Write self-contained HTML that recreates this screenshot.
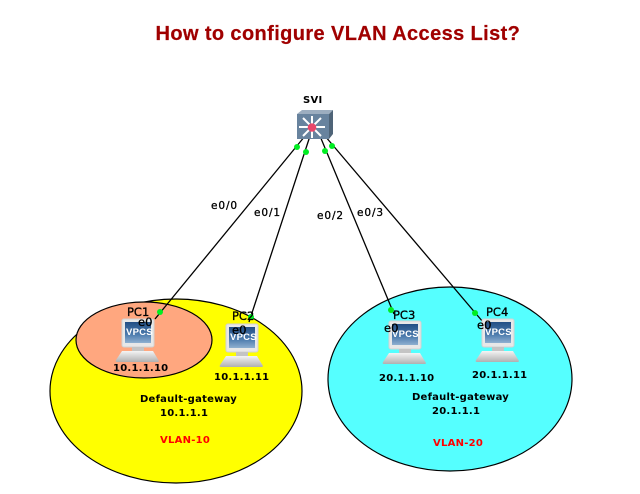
<!DOCTYPE html>
<html><head><meta charset="utf-8"><style>
html,body{margin:0;padding:0;background:#fff}
svg{display:block}
text{font-family:"Liberation Sans",sans-serif;font-size:11px;fill:#000}
.d{font-family:"DejaVu Sans",sans-serif;font-weight:bold;font-size:10px;letter-spacing:.25px}
.p{font-family:"DejaVu Sans",sans-serif;font-size:10.5px;letter-spacing:.9px;stroke:#000;stroke-width:.3px}
.q{font-family:"DejaVu Sans",sans-serif;font-size:11.5px;stroke:#000;stroke-width:.3px}
.v{font-family:"Liberation Sans",sans-serif;font-size:9.5px;font-weight:bold;fill:#fff;letter-spacing:.25px}
</style></head><body>
<svg width="640" height="494" viewBox="0 0 640 494" xmlns="http://www.w3.org/2000/svg">
<defs>
<linearGradient id="scr" x1="0" y1="0" x2="0" y2="1"><stop offset="0" stop-color="#234f85"/><stop offset=".6" stop-color="#4d7cae"/><stop offset="1" stop-color="#8fb0d0"/></linearGradient>
<linearGradient id="base" x1="0" y1="0" x2="0" y2="1"><stop offset="0" stop-color="#f4f4f4"/><stop offset="1" stop-color="#b0b0b0"/></linearGradient>
<g id="pc">
<rect x="7" y="0" width="32" height="28" rx="2" fill="#e8e8e8" stroke="#d2d2d2"/>
<rect x="10" y="3" width="26" height="21" fill="url(#scr)"/>
<rect x="17" y="28" width="12" height="4" fill="#c4c4c4"/>
<path d="M7 32H38L44 42Q44 43 42 43H2Q0 43 1 41Z" fill="url(#base)"/>
</g>
</defs>
<rect width="640" height="494" fill="#fff"/>
<text x="155.500" y="40" style="font-size:20px;font-weight:bold;fill:#a00000;letter-spacing:.39px;stroke:#a00000;stroke-width:.2px">How to configure VLAN Access List?</text>

<ellipse cx="176" cy="391" rx="126" ry="92" fill="#ffff00" stroke="#000" stroke-width="1.2"/>
<ellipse cx="144" cy="340" rx="68" ry="38" fill="#ffa77f" stroke="#000" stroke-width="1.2"/>
<ellipse cx="450" cy="379" rx="122" ry="92" fill="#55ffff" stroke="#000" stroke-width="1.2"/>

<g stroke="#000" stroke-width="1.3" fill="none">
<path d="M305 136L155 319"/>
<path d="M310 136L249 322"/>
<path d="M320 136L394 314"/>
<path d="M325 136L483 322"/>
</g>

<!-- switch -->
<path d="M297 114L302 110H333L329 114Z" fill="#9cadbf"/>
<path d="M329 114L333 110V134L329 139Z" fill="#4f6478"/>
<rect x="297" y="114" width="32" height="25" fill="#68839e"/>
<g stroke="#fff" stroke-width="2" fill="none">
<path d="M299 127H325M312 116V138M303 118L321 136M321 118L303 136"/>
</g>
<circle cx="312" cy="127.500" r="4.300" fill="#e8466a"/>

<use href="#pc" x="115" y="319"/>
<use href="#pc" x="219" y="324"/>
<use href="#pc" x="382" y="321"/>
<use href="#pc" x="475" y="319"/>
<text class="v" x="126" y="335">VPCS</text>
<text class="v" x="230" y="340">VPCS</text>
<text class="v" x="392" y="337">VPCS</text>
<text class="v" x="485" y="335">VPCS</text>

<g fill="#00ee22">
<circle cx="297" cy="147" r="3"/><circle cx="306" cy="152" r="3"/><circle cx="325" cy="151" r="3"/><circle cx="332" cy="146" r="3"/>
<circle cx="160" cy="312" r="3"/><circle cx="251" cy="317" r="3"/><circle cx="391" cy="310" r="3"/><circle cx="475" cy="313" r="3"/>
</g>

<text class="d" x="303" y="103">SVI</text>
<text class="p" x="211" y="209">e0/0</text>
<text class="p" x="254" y="216">e0/1</text>
<text class="p" x="317" y="219">e0/2</text>
<text class="p" x="357" y="216">e0/3</text>
<text class="q" x="127" y="316">PC1</text>
<text class="q" x="138" y="326">e0</text>
<text class="q" x="232" y="320">PC2</text>
<text class="q" x="232" y="334">e0</text>
<text class="q" x="393" y="319">PC3</text>
<text class="q" x="384" y="332">e0</text>
<text class="q" x="486" y="316">PC4</text>
<text class="q" x="477" y="329">e0</text>
<text class="d" x="113" y="371">10.1.1.10</text>
<text class="d" x="214" y="380">10.1.1.11</text>
<text class="d" x="379" y="381">20.1.1.10</text>
<text class="d" x="472" y="378">20.1.1.11</text>
<text class="d" x="140" y="402">Default-gateway</text>
<text class="d" x="160" y="416">10.1.1.1</text>
<text class="d" x="412" y="400">Default-gateway</text>
<text class="d" x="432" y="414">20.1.1.1</text>
<text class="d" x="160" y="443" style="fill:#ff0000">VLAN-10</text>
<text class="d" x="433" y="446" style="fill:#ff0000">VLAN-20</text>
</svg>
</body></html>
